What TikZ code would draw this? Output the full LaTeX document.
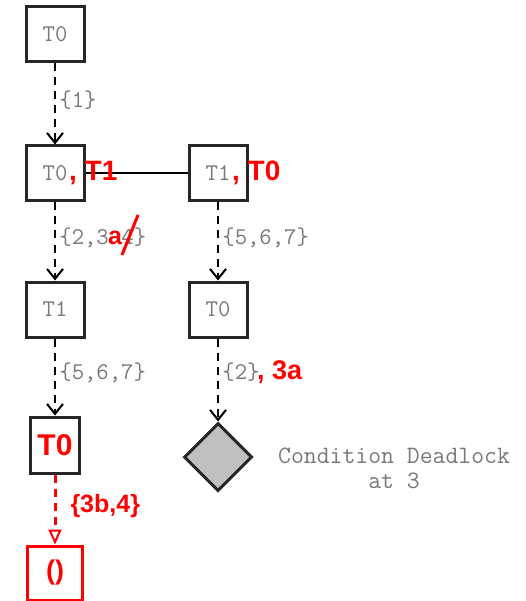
\documentclass[tikz,border=0pt]{standalone}
\usepackage{fontspec}
\setmainfont{Liberation Sans}
\usetikzlibrary{arrows.meta,shapes.geometric}
\definecolor{txtgray}{RGB}{120,120,120}
\definecolor{dgray}{RGB}{192,192,192}
\begin{document}
\begin{tikzpicture}[x=1pt,y=-1pt,
  box/.style={draw=black!85, line width=3pt, minimum width=58pt, minimum height=55pt, inner sep=0pt,
    font=\ttfamily\fontsize{24}{24}\selectfont, text=txtgray},
  flow/.style={draw=black, line width=2.8pt, dash pattern=on 8pt off 6pt,
    -{Straight Barb[length=10pt,width=16pt,line width=2pt]}},
  redflow/.style={draw=red, line width=3pt, dash pattern=on 8pt off 6pt,
    -{Triangle[open,length=15pt,width=13pt,line width=2pt]}},
  lab/.style={font=\ttfamily\fontsize{24}{24}\selectfont, text=txtgray, anchor=west, inner sep=0pt},
  condtxt/.style={font=\ttfamily\fontsize{25}{25}\selectfont, text=txtgray, inner sep=0pt},
  redtxt/.style={font=\bfseries\fontsize{28}{28}\selectfont, text=red, inner sep=0pt},
  redlab/.style={font=\bfseries\fontsize{25}{25}\selectfont, text=red, inner sep=0pt, anchor=west}
]
\useasboundingbox (0,0) rectangle (525,601);

% boxes
\node[box] (b1) at (55,34) {T0};
\node[box] (b2) at (55,173.5) {T0};
\node[box] (c2) at (218,173.5) {T1};
\node[box] (b3) at (55,309.5) {T1};
\node[box] (c3) at (218,309.5) {T0};
\node[box, minimum width=49pt, minimum height=56pt, font=\bfseries\fontsize{30}{30}\selectfont, text=red] (b4) at (55,445) {T0};
\node[draw=red, line width=3pt, minimum width=55pt, minimum height=54pt, inner sep=0pt,
  font=\bfseries\fontsize{27}{27}\selectfont, text=red] (b5) at (55,573) {()};
\node[diamond, aspect=1, draw=black!85, fill=dgray, line width=3pt, minimum size=68pt, inner sep=0pt] (dia) at (218,457) {};
\node[condtxt, anchor=base] (cond1) at (394,463) {Condition Deadlock};
\node[condtxt, anchor=base] (cond2) at (394,488) {at 3};

% connectors
\draw[line width=2pt] (b2.east) -- (c2.west);
\draw[flow] (b1) -- node[lab, pos=0.45, xshift=3pt] (l1) {\{1\}} (b2);
\draw[flow] (b2) -- node[lab, pos=0.45, xshift=3pt] (l2)
  {\{2,3\makebox[12.6pt][c]{\textcolor{red}{\normalfont\bfseries\fontsize{25}{25}\selectfont a}}4\}} (b3);
\draw[flow] (c2) -- node[lab, pos=0.45, xshift=3pt] (l3) {\{5,6,7\}} (c3);
\draw[flow] (b3) -- node[lab, pos=0.45, xshift=3pt] (l4) {\{5,6,7\}} (b4);
\draw[flow] (c3) -- node[lab, pos=0.4, xshift=3pt] (l5) {\{2\}} (dia);
\draw[redflow] (b4) -- node[redlab, pos=0.45, xshift=14pt] (l6) {\{3b,4\}} (b5);

% red annotations
\node[redtxt, anchor=base west] (r1) at ([xshift=14pt]b2.base) {, T1};
\node[redtxt, anchor=base west] (r2) at ([xshift=14pt]c2.base) {, T0};
\node[redtxt, font=\bfseries\fontsize{27}{27}\selectfont, anchor=base west] (r3) at ([xshift=-4pt]l5.base east) {, 3a};
\draw[red, line width=3pt] (122,255) -- (138,215);
\end{tikzpicture}
\end{document}
